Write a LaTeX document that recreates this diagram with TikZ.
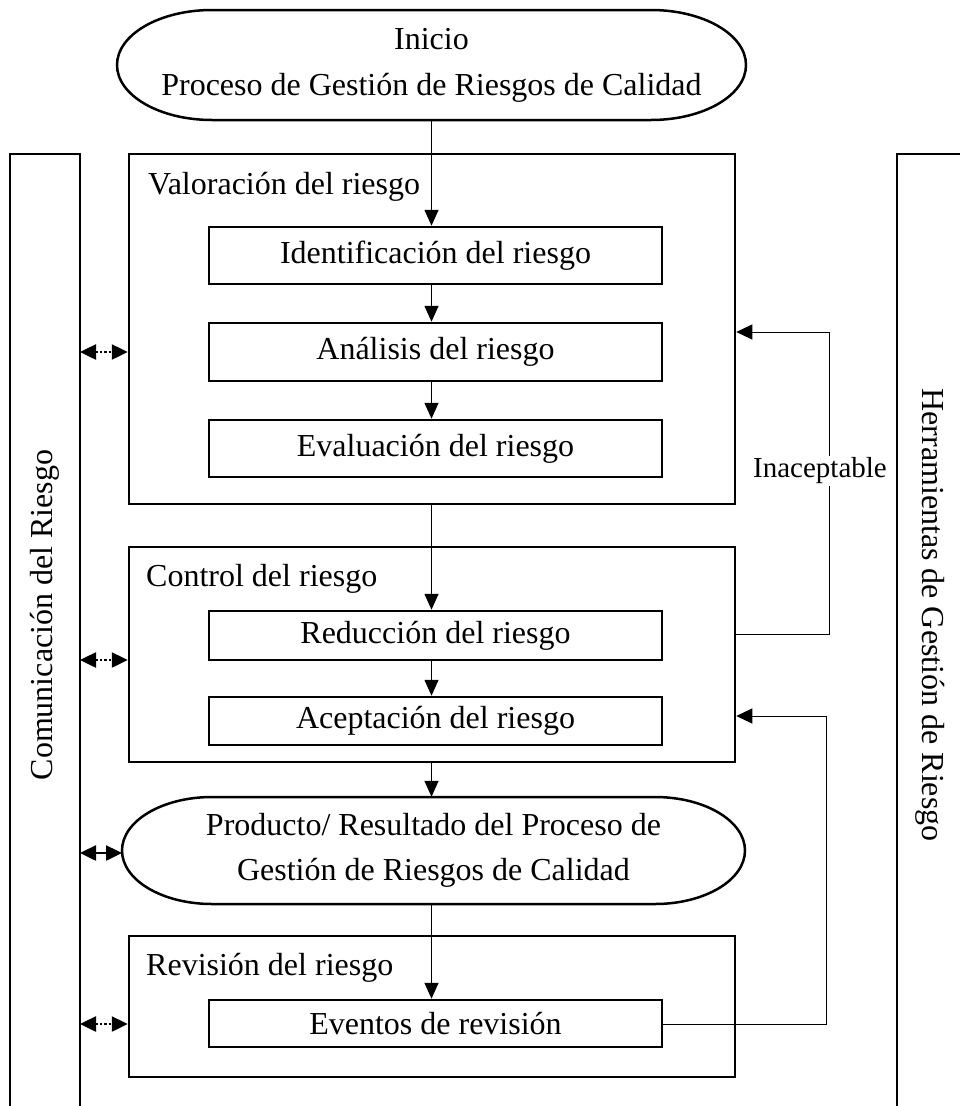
\documentclass[tikz,border=0pt]{standalone}
\usepackage{fontspec}
\setmainfont{Liberation Serif}
\usetikzlibrary{arrows.meta}
\tikzset{
  txt/.style={font=\fontsize{32}{46}\selectfont, inner sep=0pt},
  outerbox/.style={draw, line width=2.5pt, minimum width=606pt, inner sep=0pt},
  innerbox/.style={draw, line width=2.5pt, minimum width=453pt, inner sep=0pt, font=\fontsize{32}{40}\selectfont},
  panel/.style={line width=2.5pt},
  flow/.style={line width=1.5pt, -{Triangle[length=16pt,width=14pt]}},
  back/.style={line width=1pt, -{Triangle[length=16pt,width=15pt]}},
  dcom/.style={line width=2.5pt, dotted, {Triangle[length=16pt,width=15pt]}-{Triangle[length=16pt,width=15pt]}},
  scom/.style={line width=2.5pt, {Triangle[length=16pt,width=15pt]}-{Triangle[length=16pt,width=15pt]}},
  stadium/.style={line width=2.5pt}
}
\begin{document}
\begin{tikzpicture}[x=1pt,y=-1pt]
\useasboundingbox (0,0) rectangle (960,1106);

% side panels
\draw[panel] (10,1110) -- (10,154) -- (80,154) -- (80,1110);
\draw[panel] (897,1110) -- (897,154) -- (965,154);
\node[txt, rotate=90] (com) at (45,615) {Comunicación del Riesgo};
\node[txt, rotate=-90] (herr) at (930,615) {Herramientas de Gestión de Riesgo};

% start stadium
\draw[stadium] (212,10) -- (651,10) arc(-90:90:95 and 55) -- (212,120) arc(90:270:95 and 55) -- cycle;
\node[txt, align=center, minimum width=629pt, minimum height=110pt] (start) at (431.5,65) {Inicio\\Proceso de Gestión de Riesgos de Calidad};

% Valoracion
\node[outerbox, minimum height=350pt] (val) at (432,329) {};
\node[txt, anchor=west] (vall) at (148,187) {Valoración del riesgo};
\node[innerbox, minimum height=57pt] (id) at (435.5,255.5) {Identificación del riesgo};
\node[innerbox, minimum height=58pt] (an) at (435.5,352) {Análisis del riesgo};
\node[innerbox, minimum height=57pt] (ev) at (435.5,448.5) {Evaluación del riesgo};

% Control
\node[outerbox, minimum height=215pt] (ctrl) at (432,654.5) {};
\node[txt, anchor=west] (ctrll) at (146,579) {Control del riesgo};
\node[innerbox, minimum height=49pt] (red) at (435.5,635.5) {Reducción del riesgo};
\node[innerbox, minimum height=48pt] (acc) at (435.5,721) {Aceptación del riesgo};

% Producto stadium
\draw[stadium] (212,797) -- (655,797) arc(-90:90:90 and 53.5) -- (212,904) arc(90:270:90 and 53.5) -- cycle;
\node[txt, align=center, font=\fontsize{32}{45}\selectfont, minimum width=623pt, minimum height=107pt] (prod) at (433.5,850.5) {Producto/ Resultado del Proceso de\\Gestión de Riesgos de Calidad};

% Revision
\node[outerbox, minimum height=141pt] (rev) at (432,1006.5) {};
\node[txt, anchor=west] (revl) at (146,968) {Revisión del riesgo};
\node[innerbox, minimum height=47pt] (evt) at (435.5,1023.5) {Eventos de revisión};

% main flow
\draw[flow] (start.south) -- (start.south |- id.north);
\draw[flow] (id.south -| start.south) -- (an.north -| start.south);
\draw[flow] (an.south -| start.south) -- (ev.north -| start.south);
\draw[flow] (val.south -| start.south) -- (red.north -| start.south);
\draw[flow] (red.south -| start.south) -- (acc.north -| start.south);
\draw[flow] (ctrl.south -| start.south) -- (prod.north -| start.south);
\draw[flow] (prod.south -| start.south) -- (evt.north -| start.south);

% feedback loops
\coordinate (f1a) at (829,634);
\coordinate (f1b) at (829,332);
\draw[back] (ctrl.east |- f1a) -- (f1a) -- (f1b) -- (val.east |- f1b);
\node[txt, font=\fontsize{29}{34}\selectfont, fill=white, inner sep=2pt] (inac) at (820,471) {Inaceptable};
\coordinate (f2a) at (826,1024);
\coordinate (f2b) at (826,716);
\draw[back] (evt.east |- f2a) -- (f2a) -- (f2b) -- (ctrl.east |- f2b);

% communication arrows
\coordinate (c1) at (80,352);
\coordinate (c2) at (80,660);
\coordinate (c3) at (80,853);
\coordinate (c4) at (80,1024);
\draw[dcom] (c1) -- (val.west |- c1);
\draw[dcom] (c2) -- (ctrl.west |- c2);
\draw[scom] (c3) -- (122,853);
\draw[dcom] (c4) -- (rev.west |- c4);
\end{tikzpicture}
\end{document}
